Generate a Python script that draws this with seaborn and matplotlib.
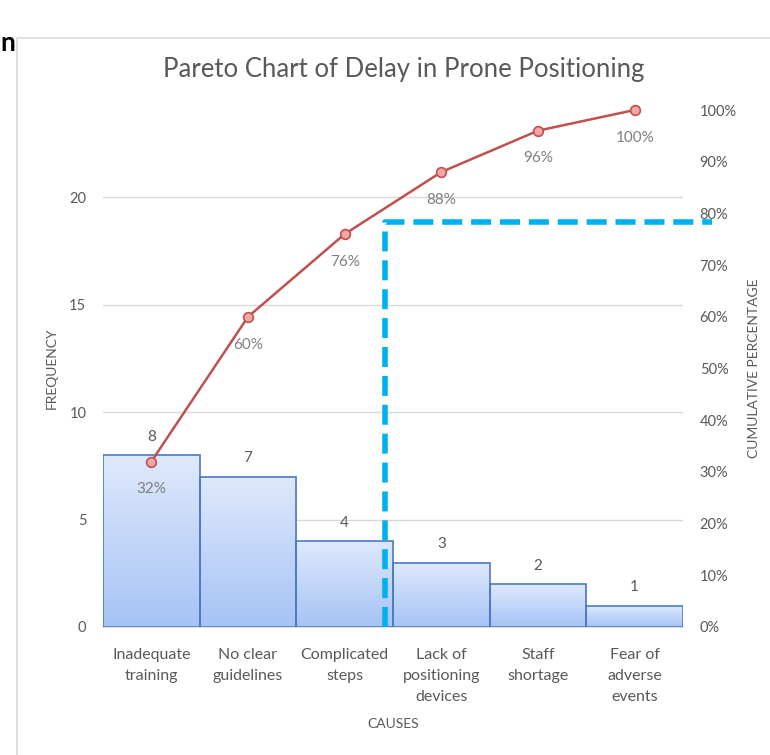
import numpy as np
import pandas as pd
import matplotlib
matplotlib.use("Agg")
import matplotlib.pyplot as plt
from matplotlib.patches import Rectangle
import seaborn as sns

# data
causes = ["Inadequate\ntraining", "No clear\nguidelines", "Complicated\nsteps",
          "Lack of\npositioning\ndevices", "Staff\nshortage", "Fear of\nadverse\nevents"]
frequency = [8, 7, 4, 3, 2, 1]
cum_pct = [32, 60, 76, 88, 96, 100]
cutoff_x = 2.42      # position of the dashed 80% marker between bars
cutoff_pct = 78.3

sns.set_theme(style="white")
plt.rcParams["font.family"] = ["Lato", "DejaVu Sans"]

GRAY = "#595959"
LIGHT = "#d9d9d9"

df = pd.DataFrame({"cause": causes, "freq": frequency, "cum": [c / 100 for c in cum_pct]})

fig = plt.figure(figsize=(7.7, 7.55), dpi=100)
ax = fig.add_axes([103 / 770, 1 - 627 / 755, 580 / 770, 517 / 755])

# outer chart frame
fig.patches.append(Rectangle((17 / 770, -0.2), 1.2, 1.2 - 38 / 755, transform=fig.transFigure,
                             fill=False, edgecolor=LIGHT, linewidth=1.2))
fig.text(0.0, 1 - 43 / 755, "n", fontsize=19, fontweight="bold", color="black", va="center", ha="left")

sns.barplot(data=df, x="cause", y="freq", ax=ax, width=1.0, color="#c9dbf8", zorder=3)

# gradient fill inside every bar
grad = np.linspace(0, 1, 256).reshape(-1, 1)
cmap = matplotlib.colors.LinearSegmentedColormap.from_list("g", ["#a6c3f5", "#dfe9fc"])
for p in ax.patches:
    x0, y0 = p.get_x(), p.get_y()
    w, h = p.get_width(), p.get_height()
    p.set_facecolor("none")
    p.set_edgecolor("#4a7ac4")
    p.set_linewidth(1.2)
    im = ax.imshow(grad, cmap=cmap, origin="lower", aspect="auto",
                   extent=[x0, x0 + w, y0, y0 + h], zorder=2)
    im.set_clip_path(p)

ax.set_xlim(-0.5, 5.5)
ax.set_ylim(0, 24.05)
ax.set_yticks([0, 5, 10, 15, 20])
ax.yaxis.grid(True, color=LIGHT, linewidth=1)
ax.set_axisbelow(True)
for s in ["top", "right", "left"]:
    ax.spines[s].set_visible(False)
ax.spines["bottom"].set_color(LIGHT)
ax.tick_params(axis="both", length=0, colors=GRAY, labelsize=10.5)
ax.tick_params(axis="x", labelsize=11.5, pad=15)
ax.tick_params(axis="y", pad=12)
for lbl in ax.get_xticklabels():
    lbl.set_linespacing(1.65)
ax.set_xlabel("CAUSES", color=GRAY, fontsize=10, labelpad=10)
ax.set_ylabel("FREQUENCY", color=GRAY, fontsize=10, labelpad=8)

for i, v in enumerate(frequency):
    ax.annotate(str(v), (i, v), xytext=(0, 8), textcoords="offset points",
                ha="center", va="bottom", color=GRAY, fontsize=11)

ax2 = ax.twinx()
sns.lineplot(x=np.arange(len(causes)), y=df["cum"], ax=ax2, color="#c0504d", linewidth=1.8,
             marker="o", markersize=7, markerfacecolor="#f2a7a5", markeredgecolor="#c0504d",
             markeredgewidth=1.2, zorder=5, clip_on=False)
ax2.set_ylim(0, 1.0)
ax2.set_yticks(np.arange(0, 1.01, 0.1))
ax2.set_yticklabels([f"{int(round(t * 100))}%" for t in np.arange(0, 1.01, 0.1)])
for s in ax2.spines.values():
    s.set_visible(False)
ax2.tick_params(axis="y", length=0, colors=GRAY, labelsize=10.5, pad=12)
ax2.set_ylabel("CUMULATIVE PERCENTAGE", color=GRAY, fontsize=10, labelpad=8)
ax2.grid(False)

for i, c in enumerate(cum_pct):
    ax2.annotate(f"{c}%", (i, c / 100), xytext=(0, -20), textcoords="offset points",
                 ha="center", va="center", color="#7f7f7f", fontsize=11)

# dashed 80% cut-off marker
ax2.plot([cutoff_x, cutoff_x, 5.8], [0, cutoff_pct / 100, cutoff_pct / 100], color="#00b0f0",
         linewidth=4, linestyle=(0, (3.6, 1.6)), clip_on=False, zorder=6)

fig.text(404 / 770, 1 - 70 / 755, "Pareto Chart of Delay in Prone Positioning",
         ha="center", va="center", color=GRAY, fontsize=18.5)

fig.savefig("out.png", dpi=100)
